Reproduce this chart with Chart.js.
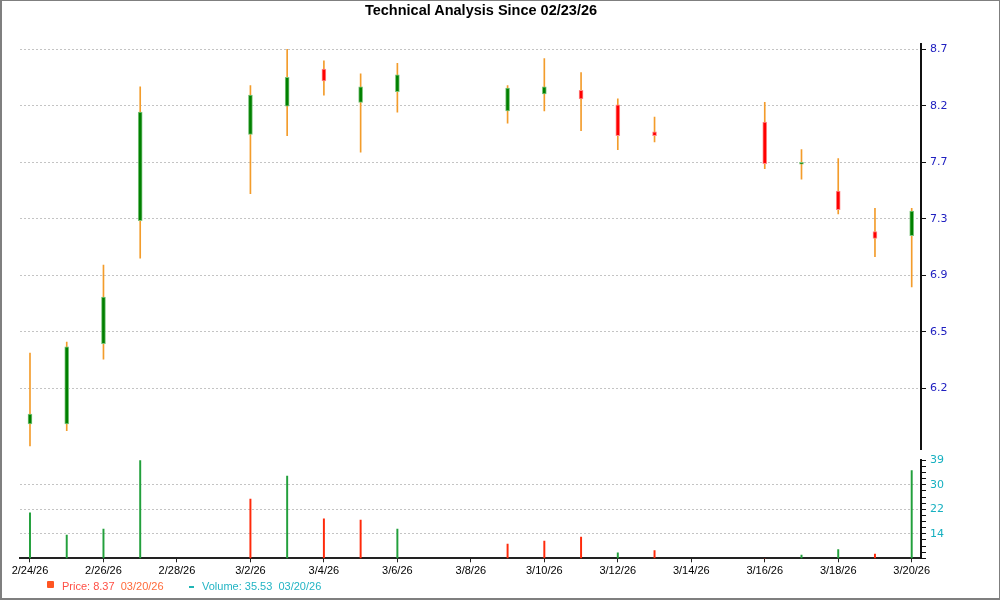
<!DOCTYPE html>
<html>
<head>
<meta charset="utf-8">
<script src="https://cdn.jsdelivr.net/npm/chart.js@4.4.1/dist/chart.umd.min.js"></script>
<style>
html,body{margin:0;padding:0;background:#fff;}
#wrap{position:relative;width:1000px;height:600px;overflow:hidden;background:#fff;}
#frame{position:absolute;left:0;top:0;width:1000px;height:600px;box-sizing:border-box;border-style:solid;border-color:#7f7f7f;border-width:1px 1px 2px 2px;pointer-events:none;z-index:5;}
canvas{position:absolute;left:0;top:0;}
#title{position:absolute;top:3px;left:481px;transform:translateX(-50%);font:bold 14.5px "Liberation Sans",Arial,sans-serif;line-height:14px;white-space:nowrap;color:#000;z-index:4;}
.leg{position:absolute;font:11px "Liberation Sans",Arial,sans-serif;white-space:pre;line-height:12px;z-index:4;}
#pmark{position:absolute;left:47px;top:581px;width:7px;height:7px;background:#ff5522;border-radius:1px;z-index:4;}
#vmark{position:absolute;left:189px;top:586px;width:5px;height:1.5px;background:#20b5b5;z-index:4;}
</style>
</head>
<body>
<div id="wrap">
  <canvas id="vol" width="1000" height="600"></canvas>
  <canvas id="price" width="1000" height="470"></canvas>
  <div id="title">Technical Analysis Since 02/23/26</div>
  <div id="pmark"></div>
  <div class="leg" style="left:62px;top:580px;"><span style="color:#ff4f45">Price: 8.37</span>  <span style="color:#ff6a3a">03/20/26</span></div>
  <div id="vmark"></div>
  <div class="leg" style="left:202px;top:580px;color:#22b4c4">Volume: 35.53  03/20/26</div>
  <div id="frame"></div>
</div>
<script>
// ---- data ----
const dates = ['2026-02-24','2026-02-25','2026-02-26','2026-02-27','2026-03-02','2026-03-03','2026-03-04','2026-03-05','2026-03-06','2026-03-09','2026-03-10','2026-03-11','2026-03-12','2026-03-13','2026-03-16','2026-03-17','2026-03-18','2026-03-19','2026-03-20'];
const openP  = [6.00, 6.00, 6.50, 7.35, 8.01, 8.24, 8.55, 8.27, 8.36, 8.20, 8.34, 8.37, 8.25, 8.03, 8.11, 7.775, 7.57, 7.27, 7.24];
const highP  = [6.44, 6.51, 7.03, 8.40, 8.41, 8.72, 8.62, 8.51, 8.60, 8.41, 8.64, 8.52, 8.30, 8.15, 8.27, 7.89, 7.82, 7.44, 7.44];
const lowP   = [5.87, 5.96, 6.40, 7.08, 7.55, 8.00, 8.33, 7.87, 8.19, 8.10, 8.20, 8.04, 7.89, 7.95, 7.74, 7.66, 7.40, 7.09, 6.88];
const closeP = [6.06, 6.48, 6.81, 8.19, 8.33, 8.48, 8.45, 8.40, 8.50, 8.39, 8.40, 8.30, 8.00, 8.00, 7.78, 7.79, 7.43, 7.22, 7.42];
const volume = [21.4, 14.0, 16.0, 39.0, 26.0, 33.7, 19.4, 19.0, 16.0, 11.0, 12.0, 13.3, 8.0, 8.75, 6.2, 7.3, 9.1, 7.6, 35.53];
const volDir = ['up','up','up','up','down','up','down','down','up','down','down','down','up','down','down','up','up','down','up'];
const xTickLabels = ['2/24/26','2/26/26','2/28/26','3/2/26','3/4/26','3/6/26','3/8/26','3/10/26','3/12/26','3/14/26','3/16/26','3/18/26','3/20/26'];
const priceTickLabels = ['8.7','8.2','7.7','7.3','6.9','6.5','6.2'];
const volTickLabels = ['14','22','30','39'];

// ---- axis configuration ----
const PRICE_MIN = 5.850, PRICE_MAX = 8.764, PRICE_TICK_TOP = 8.72, PRICE_TICK_RATIO = 1.058;
const VOL_MIN = 6.2, VOL_MAX = 39, VOL_MINOR = 2.05, VOL_MINOR_COUNT = 16;
const X_MIN = -0.272, X_MAX = 24.253;

const DAY = 86400000;
const T0 = Date.UTC(2026, 1, 24);
const isoToDay = s => { const [y, m, d] = s.split('-').map(Number); return (Date.UTC(y, m - 1, d) - T0) / DAY; };
const labelToDay = s => { const [m, d, y] = s.split('/').map(Number); return (Date.UTC(2000 + y, m - 1, d) - T0) / DAY; };
const dayIdx = dates.map(isoToDay);

const SANS = '"Liberation Sans", Arial, sans-serif';
const VERD = '"DejaVu Sans", Verdana, sans-serif';

function xScale(show) {
  return {
    type: 'linear', min: X_MIN, max: X_MAX, offset: false, display: show, position: 'bottom',
    afterBuildTicks: s => { s.ticks = xTickLabels.map(l => ({ value: labelToDay(l) })); },
    afterFit: s => { s.height = show ? 41.7 : 0; },
    ticks: { autoSkip: false, maxRotation: 0, minRotation: 0, padding: 2, color: '#000',
      font: { family: SANS, size: 11 }, callback: (v, i) => xTickLabels[i] },
    grid: { display: true, drawOnChartArea: false, drawTicks: true, tickLength: 4, color: '#222', offset: false },
    border: { display: true, color: '#222', width: 2 }
  };
}

const up = dayIdx.map((_, i) => closeP[i] >= openP[i]);

new Chart(document.getElementById('price'), {
  type: 'bar',
  data: {
    datasets: [
      {
        label: 'body',
        data: dayIdx.map((x, i) => ({ x, y: [openP[i], closeP[i]] })),
        backgroundColor: up.map(u => u ? '#008000' : '#ff0000'),
        borderColor: up.map(u => u ? '#7cc47c' : '#ff8a8a'),
        borderWidth: 1, borderSkipped: false, barThickness: 4, grouped: false, order: 0
      },
      {
        label: 'wick',
        data: dayIdx.map((x, i) => ({ x, y: [lowP[i], highP[i]] })),
        backgroundColor: '#f39c2b', borderWidth: 0, barThickness: 1, grouped: false, order: 1
      }
    ]
  },
  options: {
    responsive: false, animation: false, devicePixelRatio: 1,
    layout: { padding: { left: 20, top: 44.3, right: 0, bottom: 20.7 } },
    plugins: { legend: { display: false }, tooltip: { enabled: false }, title: { display: false } },
    scales: {
      x: xScale(false),
      y: {
        type: 'logarithmic', position: 'right', min: PRICE_MIN, max: PRICE_MAX, bounds: 'data',
        afterBuildTicks: s => { s.ticks = priceTickLabels.map((_, k) => ({ value: PRICE_TICK_TOP / Math.pow(PRICE_TICK_RATIO, k) })); },
        afterFit: s => { s.width = 79; },
        ticks: { autoSkip: false, padding: 4, color: '#2020c0', font: { family: VERD, size: 11 },
          callback: (v, i) => priceTickLabels[i] },
        grid: { color: '#c4c4c4', lineWidth: 1, drawTicks: true, tickLength: 5, tickColor: '#111', tickBorderDash: [] },
        border: { display: true, color: '#111', width: 2, dash: [2, 2] }
      }
    }
  }
});

new Chart(document.getElementById('vol'), {
  type: 'bar',
  data: {
    datasets: [{
      label: 'volume',
      data: dayIdx.map((x, i) => ({ x, y: volume[i] })),
      backgroundColor: volDir.map(d => d === 'up' ? '#22a03c' : '#ff2a0a'),
      borderWidth: 0, barThickness: 1.3, grouped: false
    }]
  },
  options: {
    responsive: false, animation: false, devicePixelRatio: 1,
    layout: { padding: { left: 20, top: 460.3, right: 0, bottom: 0 } },
    plugins: { legend: { display: false }, tooltip: { enabled: false }, title: { display: false } },
    scales: {
      x: xScale(true),
      y: {
        type: 'linear', position: 'right', min: VOL_MIN, max: VOL_MAX, bounds: 'data',
        afterBuildTicks: s => { s.ticks = Array.from({ length: VOL_MINOR_COUNT + 1 }, (_, k) => ({ value: VOL_MIN + k * VOL_MINOR })); },
        afterFit: s => { s.width = 79; },
        ticks: { autoSkip: false, padding: 4, color: '#17b0c0', font: { family: VERD, size: 11 },
          callback: (v, i) => (i > 0 && i % 4 === 0) ? volTickLabels[i / 4 - 1] : '' },
        grid: {
          color: c => (c.index > 0 && c.index < VOL_MINOR_COUNT && c.index % 4 === 0) ? '#c4c4c4' : 'rgba(0,0,0,0)',
          lineWidth: 1, drawTicks: true, tickLength: 5, tickColor: '#111', tickBorderDash: []
        },
        border: { display: true, color: '#111', width: 2, dash: [2, 2] }
      }
    }
  }
});
</script>
</body>
</html>
